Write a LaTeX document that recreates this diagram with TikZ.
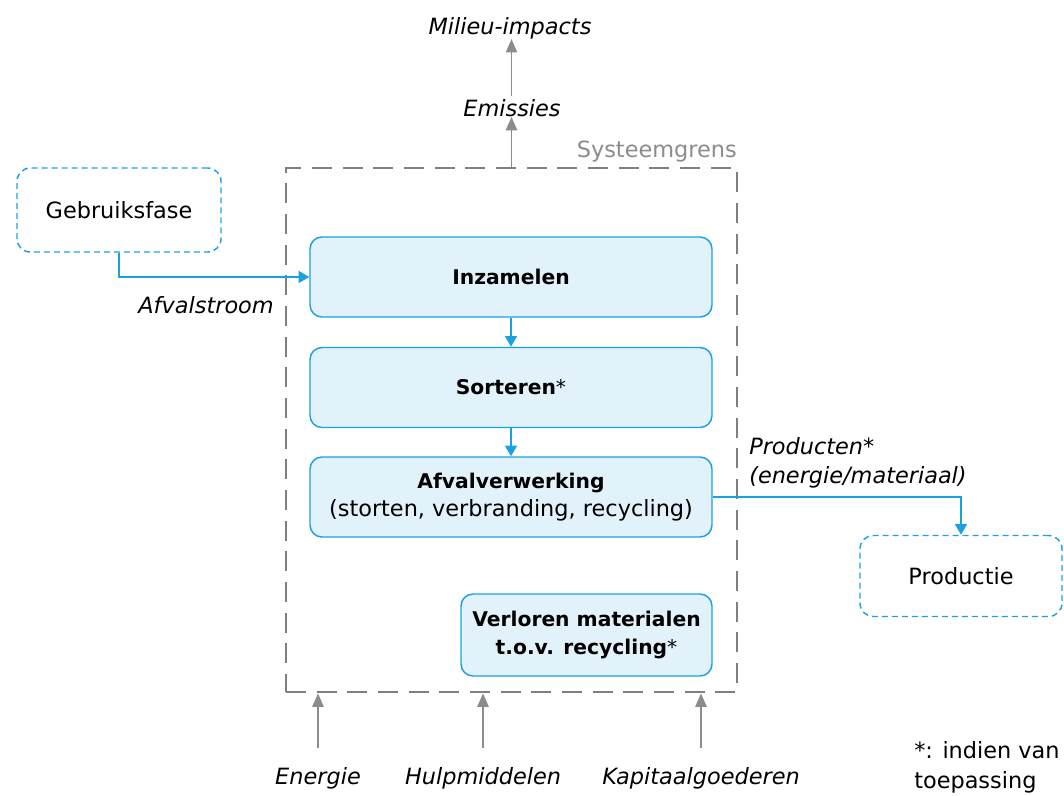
\documentclass[tikz,border=0pt]{standalone}
\usepackage{fontspec}
\setmainfont{DejaVu Sans}
\usetikzlibrary{arrows.meta}
\definecolor{cblue}{HTML}{1BA1E2}
\definecolor{cfill}{HTML}{E2F2FB}
\definecolor{cgray}{HTML}{7F7F7F}
\definecolor{agray}{HTML}{8C8C8C}
\begin{document}
\begin{tikzpicture}[x=0.75pt,y=-0.75pt,
  every node/.style={font=\fontsize{16.8}{21.5}\selectfont, inner sep=0pt, align=center},
  procbox/.style={draw=cblue, fill=cfill, line width=1.1pt, rounded corners=9pt, font=\fontsize{15.2}{21.5}\selectfont\bfseries},
  extbox/.style={draw=cblue, dashed, dash pattern=on 4.5pt off 3pt, line width=1.1pt, rounded corners=10pt},
  bluearrow/.style={draw=cblue, line width=1.1pt, -{Triangle[length=8pt,width=9pt]}},
  grayarrow/.style={draw=agray, line width=1.1pt, -{Triangle[length=10pt,width=8.5pt]}},
  lbl/.style={font=\fontsize{16.8}{21.5}\selectfont\itshape}
]
\useasboundingbox (0,0) rectangle (1064,796);
% system boundary
\node[draw=cgray, line width=2.2pt, dash pattern=on 15pt off 8pt, minimum width=451*0.75pt, minimum height=524*0.75pt] (sys) at (511.5,430) {};
\node[anchor=south east, text=agray] (sg) at (737,162) {Systeemgrens};
% process boxes
\node[procbox, minimum width=402*0.75pt, minimum height=80*0.75pt] (inz) at (511,277) {Inzamelen};
\node[procbox, minimum width=402*0.75pt, minimum height=80*0.75pt] (sor) at (511,387.5) {Sorteren\textmd{*}};
\node[procbox, minimum width=402*0.75pt, minimum height=80*0.75pt] (afv) at (511,497) {Afvalverwerking\\\textmd{\fontsize{16.8}{21.5}\selectfont(storten, verbranding, recycling)}};
\node[procbox, minimum width=251*0.75pt, minimum height=82*0.75pt] (ver) at (586.5,635) {Verloren materialen\\t.o.v. recycling\textmd{*}};
% external boxes
\node[extbox, minimum width=204*0.75pt, minimum height=84*0.75pt] (geb) at (119,210) {Gebruiksfase};
\node[extbox, minimum width=202*0.75pt, minimum height=81*0.75pt] (prod) at (961,576) {Productie};
% blue arrows
\draw[bluearrow] (geb.south) |- (inz.west);
\node[lbl, anchor=east] (afs) at (274,305) {Afvalstroom};
\draw[bluearrow] (inz) -- (sor);
\draw[bluearrow] (sor) -- (afv);
\draw[bluearrow] (afv.east) -| (prod.north);
\node[lbl, anchor=west, align=left] (prc) at (749,463) {Producten*\\(energie/materiaal)};
% top
\node[lbl] (emi) at (512,108) {Emissies};
\node[lbl] (mil) at (510,28) {Milieu-impacts};
\draw[grayarrow] (sys.north) -- (sys.north |- emi.south);
\draw[grayarrow] (sys.north |- emi.north) ++(0,-3) -- (sys.north |- mil.south);
% bottom
\node[lbl] (ene) at (318,778) {Energie};
\node[lbl] (hul) at (483,778) {Hulpmiddelen};
\node[lbl] (kap) at (701,778) {Kapitaalgoederen};
\coordinate (e0) at (318,748);
\coordinate (h0) at (483,748);
\coordinate (k0) at (701,748);
\draw[grayarrow] (e0) -- (e0 |- sys.south);
\draw[grayarrow] (h0) -- (h0 |- sys.south);
\draw[grayarrow] (k0) -- (k0 |- sys.south);
% footnote
\node[anchor=north west, align=left, font=\fontsize{16.8}{22.5}\selectfont] (fn) at (914,741) {*: indien van\\toepassing};
\end{tikzpicture}
\end{document}
